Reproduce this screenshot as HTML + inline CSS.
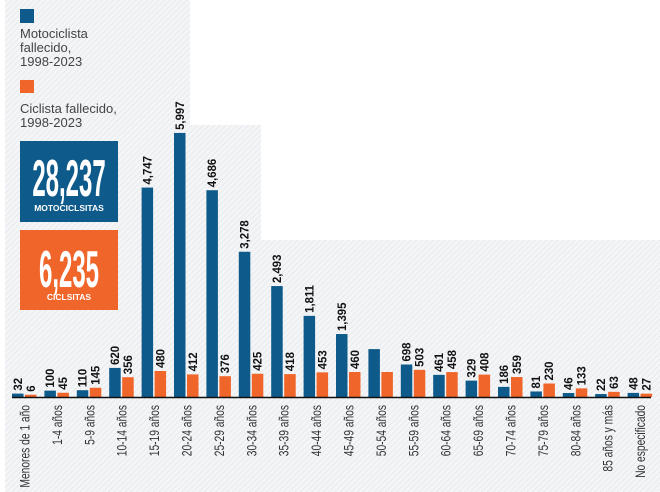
<!DOCTYPE html>
<html><head><meta charset="utf-8"><style>
body{margin:0;background:#fff;}
svg{display:block;font-family:"Liberation Sans",sans-serif;}
</style></head><body>
<svg width="660" height="492" viewBox="0 0 660 492" xmlns="http://www.w3.org/2000/svg">
<defs>
<pattern id="h" width="4" height="4" patternUnits="userSpaceOnUse" patternTransform="rotate(45)">
<rect width="4" height="4" fill="#f4f5f7"/>
<line x1="0" y1="0" x2="0" y2="4" stroke="#e1e3e7" stroke-width="1.2"/>
</pattern>
</defs>
<path d="M5 0 H190 V125 H261 V240 H660 V492 H5 Z" fill="url(#h)"/>
<rect x="20" y="9" width="14" height="14" fill="#0e5a8a"/>
<text font-size="13" fill="#444"><tspan x="20" y="38">Motociclista</tspan><tspan x="20" y="52">fallecido,</tspan><tspan x="20" y="66">1998-2023</tspan></text>
<rect x="20" y="80" width="14" height="13" fill="#f0652a"/>
<text font-size="13" fill="#444"><tspan x="20" y="113">Ciclista fallecido,</tspan><tspan x="20" y="127">1998-2023</tspan></text>
<rect x="20" y="141" width="98" height="81" fill="#0e5a8a"/>
<text x="69" y="196" font-size="48" font-weight="bold" fill="#fff" text-anchor="middle" transform="translate(69 196) scale(0.5 1.08) translate(-69 -196)">28,237</text>
<text x="69" y="211" font-size="8.5" font-weight="bold" fill="#fff" text-anchor="middle">MOTOCICLSITAS</text>
<rect x="20" y="230" width="98" height="80" fill="#f0652a"/>
<text x="69" y="287" font-size="48" font-weight="bold" fill="#fff" text-anchor="middle" transform="translate(69 287) scale(0.5 1.08) translate(-69 -287)">6,235</text>
<text x="69" y="300" font-size="8.5" font-weight="bold" fill="#fff" text-anchor="middle">CICLSITAS</text>
<g id="bars"></g>
<line x1="12" y1="397.5" x2="651" y2="397.5" stroke="#111" stroke-width="1.6"/>
</svg>
<script>
var cats=["Menores de 1 año","1-4 años","5-9 años","10-14 años","15-19 años","20-24 años","25-29 años","30-34 años","35-39 años","40-44 años","45-49 años","50-54 años","55-59 años","60-64 años","65-69 años","70-74 años","75-79 años","80-84 años","85 años y más","No especificado"];
var b=[32,100,110,620,4747,5997,4686,3278,2493,1811,1395,1050,698,461,329,186,81,46,22,48];
var o=[6,45,145,356,480,412,376,425,418,453,460,460,503,458,408,359,230,133,63,27];
var s='',base=397;
for(var i=0;i<20;i++){
 var c=24+32.4*i;
 var hb=b[i]*0.0437+2, ho=o[i]*0.05+2;
 s+='<rect x="'+(c-12)+'" y="'+(base-hb)+'" width="11.5" height="'+hb+'" fill="#0e5a8a"/>';
 s+='<rect x="'+(c+1)+'" y="'+(base-ho)+'" width="11.5" height="'+ho+'" fill="#f0652a"/>';
 if(i!=11){
 var bx=c-6.2+4,by=base-hb-3;
 s+='<text transform="translate('+bx+' '+by+') rotate(-90) scale(0.95 1)" font-size="12" font-weight="bold" fill="#111">'+b[i].toLocaleString('en-US')+'</text>';
 var ox=c+6.8+4,oy=base-ho-3;
 s+='<text transform="translate('+ox+' '+oy+') rotate(-90) scale(0.95 1)" font-size="12" font-weight="bold" fill="#111">'+o[i]+'</text>';
 }
 s+='<text transform="translate('+(c+5.5)+' 405) rotate(-90) scale(0.76 1)" font-size="13.5" fill="#333" text-anchor="end">'+cats[i]+'</text>';
}
document.getElementById('bars').innerHTML=s;
</script>
</body></html>
